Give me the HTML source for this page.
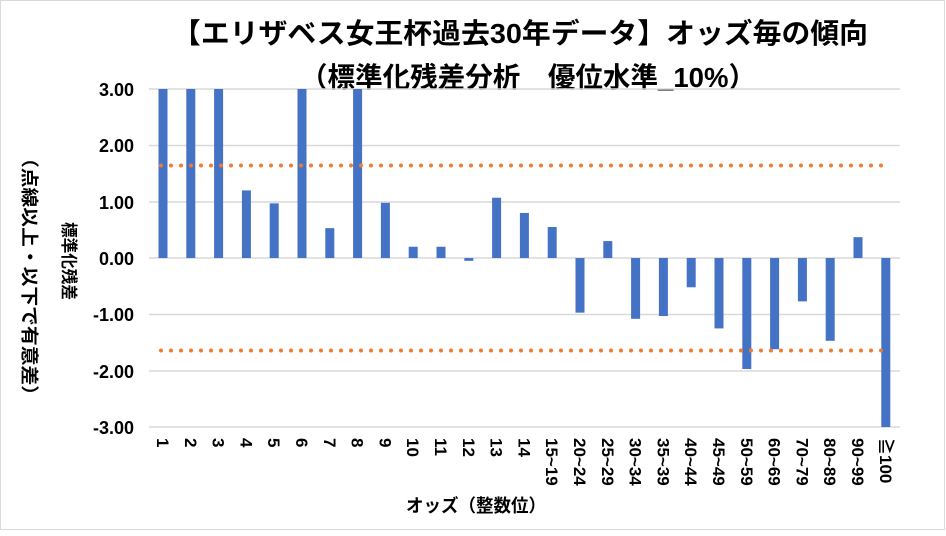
<!DOCTYPE html>
<html><head><meta charset="utf-8"><style>
body{margin:0;background:#fff;}
svg text{font-family:"Liberation Sans","Noto Sans CJK JP",sans-serif;font-weight:bold;fill:#000;}
</style></head><body>
<svg width="946" height="531" viewBox="0 0 946 531" xmlns="http://www.w3.org/2000/svg">
<rect x="0.5" y="0.5" width="944" height="529" fill="#fff" stroke="#d9d9d9"/>
<text x="172" y="43" font-size="28" textLength="696" lengthAdjust="spacingAndGlyphs">【エリザベス女王杯過去30年データ】オッズ毎の傾向</text>
<text x="300" y="87" font-size="28" textLength="456" lengthAdjust="spacingAndGlyphs">（標準化残差分析　優位水準_10%）</text>
<g stroke="#d9d9d9" stroke-width="1.5">
<line x1="149" x2="900" y1="89" y2="89"/>
<line x1="149" x2="900" y1="145.5" y2="145.5"/>
<line x1="149" x2="900" y1="202" y2="202"/>
<line x1="149" x2="900" y1="258" y2="258"/>
<line x1="149" x2="900" y1="314.5" y2="314.5"/>
<line x1="149" x2="900" y1="371" y2="371"/>
<line x1="149" x2="900" y1="427" y2="427"/>
</g>
<g font-size="18" text-anchor="end">
<text x="134" y="96">3.00</text>
<text x="134" y="152">2.00</text>
<text x="134" y="209">1.00</text>
<text x="134" y="265">0.00</text>
<text x="134" y="321">-1.00</text>
<text x="134" y="378">-2.00</text>
<text x="134" y="434">-3.00</text>
</g>
<g id="bars" fill="#4472c4"></g>
<g fill="#ed7d31" id="dots"></g>
<g id="xl" font-size="17"></g>
<text x="406" y="512" font-size="18" textLength="140" lengthAdjust="spacingAndGlyphs">オッズ（整数位）</text>
<text transform="translate(63,222) rotate(90)" font-size="17" textLength="78" lengthAdjust="spacingAndGlyphs">標準化残差</text>
<text transform="translate(23,148) rotate(90)" font-size="18" textLength="257" lengthAdjust="spacingAndGlyphs">（点線以上・以下で有意差）</text>
</svg>
<script>
var vals=[3,3,3,1.2,0.97,3,0.53,3,0.98,0.2,0.2,-0.05,1.07,0.8,0.55,-0.97,0.3,-1.08,-1.03,-0.52,-1.25,-1.97,-1.62,-0.77,-1.47,0.37,-3];
var labs=["1","2","3","4","5","6","7","8","9","10","11","12","13","14","15~19","20~24","25~29","30~34","35~39","40~44","45~49","50~59","60~69","70~79","80~89","90~99","≧100"];
var ns="http://www.w3.org/2000/svg",b=document.getElementById("bars"),xl=document.getElementById("xl"),d=document.getElementById("dots");
for(var i=0;i<27;i++){var cx=163+i*27.8,v=vals[i],y0=258,y1=258-v*56.33;
var r=document.createElementNS(ns,"rect");r.setAttribute("x",cx-4.5);r.setAttribute("width",9);r.setAttribute("y",Math.min(y0,y1));r.setAttribute("height",Math.max(Math.abs(y1-y0),1.5));b.appendChild(r);
var t=document.createElementNS(ns,"text");t.setAttribute("transform","translate("+(cx-6)+",438) rotate(90)");t.textContent=labs[i];xl.appendChild(t);}
for(var x=161;x<=884;x+=10){[165.5,350.5].forEach(function(y){var c=document.createElementNS(ns,"circle");c.setAttribute("cx",x);c.setAttribute("cy",y);c.setAttribute("r",2);d.appendChild(c);});}
</script>
</body></html>
